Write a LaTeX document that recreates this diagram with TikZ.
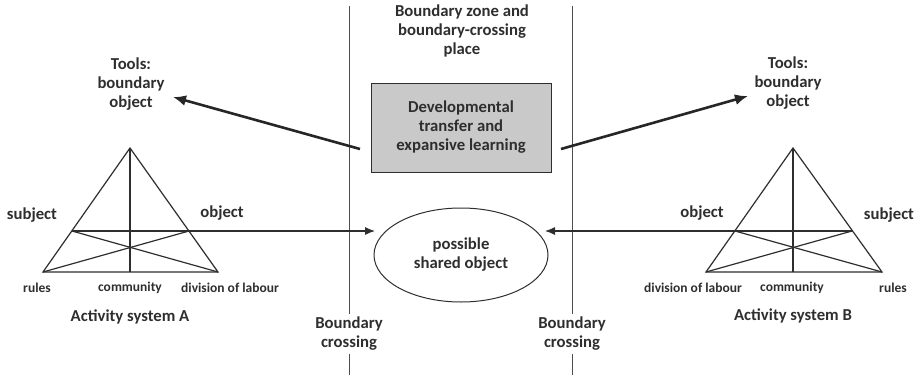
\documentclass[tikz,border=0pt]{standalone}
\usepackage{fontspec}
\setmainfont{Carlito}
\usetikzlibrary{shapes.geometric,arrows.meta}
\definecolor{ink}{HTML}{2E2E2E}
\definecolor{boxgrey}{HTML}{C9C9C9}
\tikzset{
  big/.style={font=\fontsize{16.7}{19}\selectfont\bfseries, text=ink, align=center, inner sep=0pt},
  small/.style={font=\fontsize{13.5}{15}\selectfont\bfseries, text=ink, inner sep=0pt},
  tri/.style={draw=ink, line width=1.2pt},
  bound/.style={draw=ink!85, line width=0.9pt},
  thick arrow/.style={draw=black!85, line width=2.6pt, -{Latex[length=13pt,width=11pt]}},
  thin arrow/.style={draw=ink, line width=1.1pt, -{Latex[length=10pt,width=8pt]}}
}
\begin{document}
\begin{tikzpicture}[x=1pt,y=-1pt]
\useasboundingbox (0,0) rectangle (921,375);

% boundary labels
\node[big] (bcl) at (349,334) {Boundary\\crossing};
\node[big] (bcr) at (572,334) {Boundary\\crossing};
\coordinate (lt) at (349,6);
\coordinate (lb) at (349,375);
\coordinate (rt) at (572,6);
\coordinate (rb) at (572,375);
\draw[bound] (lt) -- ([yshift=3pt]bcl.north);
\draw[bound] ([yshift=-3pt]bcl.south) -- (lb);
\draw[bound] (rt) -- ([yshift=3pt]bcr.north);
\draw[bound] ([yshift=-3pt]bcr.south) -- (rb);

% title
\node[big] (zone) at (462,31) {Boundary zone and\\boundary-crossing\\place};

% central box
\node[big, draw=ink, line width=1pt, fill=boxgrey, minimum width=180pt, minimum height=89pt] (dev) at (461,127.5) {Developmental\\transfer and\\expansive learning};

% ellipse
\node[big, draw=ink, line width=1pt, ellipse, minimum width=174pt, minimum height=94pt] (shared) at (461,255) {possible\\shared object};

% tools
\node[big] (toolsA) at (131,84) {Tools:\\boundary\\object};
\node[big] (toolsB) at (788,83) {Tools:\\boundary\\object};
\coordinate (atl) at (360,149);
\coordinate (atr) at (561,149);
\coordinate (tipl) at (173,97);
\coordinate (tipr) at (748,96);
\draw[thick arrow] (atl) -- (tipl);
\draw[thick arrow] (atr) -- (tipr);

% triangle A
\coordinate (Aap) at (130,148);
\coordinate (Abl) at (43,272);
\coordinate (Abr) at (218,272);
\coordinate (Abm) at (130,272);
\coordinate (Asl) at (72,231);
\coordinate (Asr) at (189,231);
\draw[tri, line join=miter] (Aap) -- (Abl) -- (Abr) -- cycle;
\draw[tri] (Aap) -- (Abm);
\draw[tri] (Asl) -- (Asr);
\draw[tri] (Asl) -- (Abr);
\draw[tri] (Asr) -- (Abl);
\coordinate (Aend) at (375,231);
\draw[thin arrow] (Asr) -- (Aend);

% triangle B
\coordinate (Bap) at (793,148);
\coordinate (Bbl) at (706,272);
\coordinate (Bbr) at (882,272);
\coordinate (Bbm) at (793,272);
\coordinate (Bsl) at (735,231);
\coordinate (Bsr) at (852,231);
\draw[tri, line join=miter] (Bap) -- (Bbl) -- (Bbr) -- cycle;
\draw[tri] (Bap) -- (Bbm);
\draw[tri] (Bsl) -- (Bsr);
\draw[tri] (Bsl) -- (Bbr);
\draw[tri] (Bsr) -- (Bbl);
\coordinate (Bend) at (545,231);
\draw[thin arrow] (Bsl) -- (Bend);

% labels A
\node[big] (subjA) at (32,215) {subject};
\node[big] (objA) at (222,213) {object};
\node[small] (rulesA) at (37,288) {rules};
\node[small] (commA) at (130,288) {community};
\node[small] (divA) at (230,288) {division of labour};
\node[big] (sysA) at (130,317) {Activity system A};

% labels B
\node[big] (objB) at (702,213) {object};
\node[big] (subjB) at (889,215) {subject};
\node[small] (divB) at (693,288) {division of labour};
\node[small] (commB) at (792,288) {community};
\node[small] (rulesB) at (893,288) {rules};
\node[big] (sysB) at (793,316) {Activity system B};
\end{tikzpicture}
\end{document}
